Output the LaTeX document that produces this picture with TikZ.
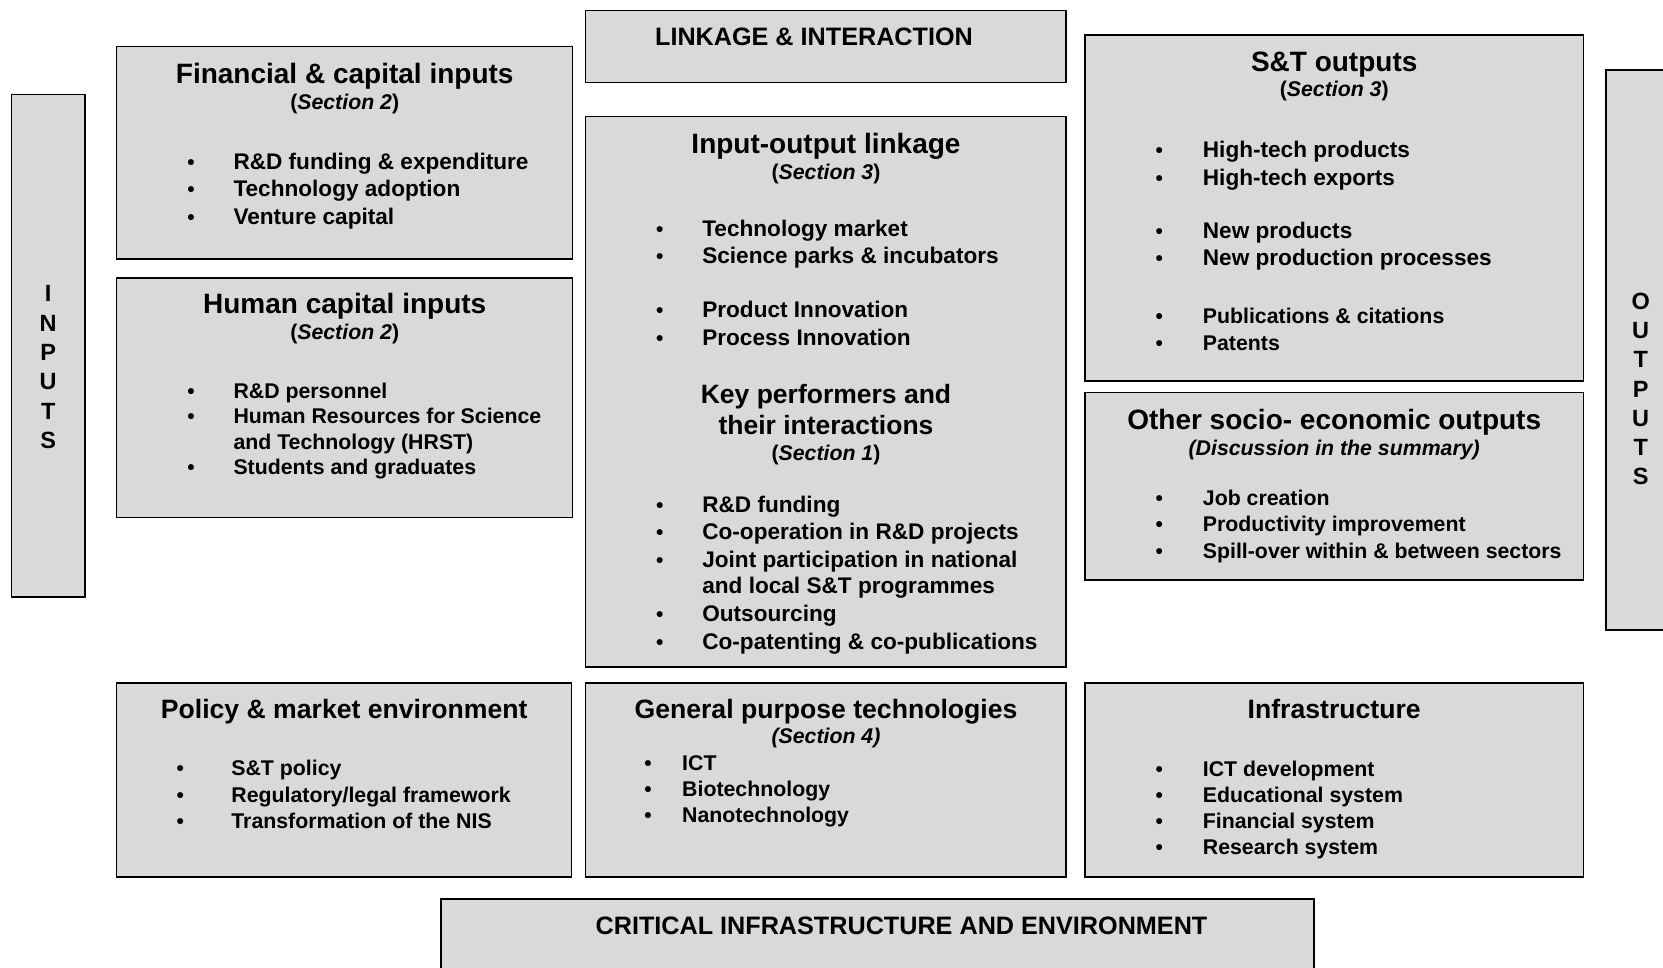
\documentclass[tikz,border=0pt]{standalone}
\usepackage{fontspec}
\setmainfont{Liberation Sans}
\definecolor{boxgray}{RGB}{217,217,217}
\tikzset{
  box/.style={draw=black, line width=1.5pt, fill=boxgray, inner sep=0pt, outer sep=0pt, anchor=north west},
  ttl/.style={font=\fontsize{28}{30}\selectfont\bfseries, anchor=base, inner sep=0pt},
  ttlk/.style={font=\fontsize{26.5}{28}\selectfont\bfseries, anchor=base, inner sep=0pt},
  ttlb/.style={font=\fontsize{26.6}{28}\selectfont\bfseries, anchor=base, inner sep=0pt},
  sec/.style={font=\fontsize{21.3}{23}\selectfont\bfseries, anchor=base, inner sep=0pt},
  big/.style={font=\fontsize{25.2}{27}\selectfont\bfseries, anchor=base, inner sep=0pt},
  itemA/.style={font=\fontsize{22.6}{24}\selectfont\bfseries, anchor=base west, inner sep=0pt},
  itemB/.style={font=\fontsize{21.3}{23}\selectfont\bfseries, anchor=base west, inner sep=0pt},
  bul/.style={font=\fontsize{21}{23}\selectfont\bfseries, anchor=base, inner sep=0pt},
  vert/.style={font=\fontsize{23.5}{29.3}\selectfont\bfseries, anchor=north, inner sep=0pt, align=center},
}
% name, bullet x, text x, baseline y, style, text
\newcommand{\bitem}[6]{%
  \node[bul] (#1b) at (#2,#4) {\textbullet};
  \node[#5] (#1) at (#3,#4) {#6};}
\begin{document}
\begin{tikzpicture}[x=1pt,y=-1pt]
\useasboundingbox (0,0) rectangle (1663,967);
\clip (0,0) rectangle (1663,967);
\fill[white] (0,0) rectangle (1663,967);

% boxes
\node[box, minimum width=73.1pt, minimum height=502.6pt] (inputs) at (11.7,94.4) {};
\node[box, minimum width=456pt, minimum height=212.1pt] (fin) at (116.7,46.7) {};
\node[box, minimum width=456pt, minimum height=239.7pt] (hum) at (116.7,277.9) {};
\node[box, minimum width=480.5pt, minimum height=72.1pt] (link) at (585.5,10.6) {};
\node[box, minimum width=480.5pt, minimum height=550.3pt] (io) at (585.5,116.7) {};
\node[box, minimum width=498.5pt, minimum height=345.8pt] (st) at (1085,35) {};
\node[box, minimum width=498.5pt, minimum height=187.6pt] (oth) at (1085,392.4) {};
\node[box, minimum width=90pt, minimum height=560pt] (outs) at (1605.8,70) {};
\node[box, minimum width=455pt, minimum height=194pt] (pol) at (116.7,683) {};
\node[box, minimum width=480.5pt, minimum height=194pt] (gen) at (585.5,683) {};
\node[box, minimum width=498.5pt, minimum height=194pt] (inf) at (1085,683) {};
\node[box, minimum width=873pt, minimum height=100pt] (crit) at (441,899) {};

% INPUTS / OUTPUTS
\node[vert] (inputsT) at (48.2,285.5) {I\\N\\P\\U\\T\\S};
\node[vert] (outputsT) at (1640.7,292.5) {O\\U\\T\\P\\U\\T\\S};

% LINKAGE / CRITICAL
\node[big] (linkT) at (814,45) {LINKAGE \& INTERACTION};
\node[big] (critT) at (901.5,934) {CRITICAL INFRASTRUCTURE AND ENVIRONMENT};

% Financial
\node[ttl] (finT) at (344.7,83) {Financial \& capital inputs};
\node[sec] (finS) at (344.7,109.5) {(\textit{Section 2})};
\bitem{f1}{191}{233.3}{169.3}{itemA}{R\&D funding \& expenditure}
\bitem{f2}{191}{233.3}{196.9}{itemA}{Technology adoption}
\bitem{f3}{191}{233.3}{224.5}{itemA}{Venture capital}

% Human
\node[ttl] (humT) at (344.7,313) {Human capital inputs};
\node[sec] (humS) at (344.7,339.6) {(\textit{Section 2})};
\bitem{h1}{191}{233.3}{398.4}{itemB}{R\&D personnel}
\bitem{h2}{191}{233.3}{423.9}{itemB}{Human Resources for Science}
\node[itemB] (h2b2) at (233.3,449.3) {and Technology (HRST)};
\bitem{h3}{191}{233.3}{474.8}{itemB}{Students and graduates}

% Input-output
\node[ttl] (ioT) at (826,153) {Input-output linkage};
\node[sec] (ioS) at (826,179.4) {(\textit{Section 3})};
\bitem{i1}{659.7}{702.1}{236.1}{itemA}{Technology market}
\bitem{i2}{659.7}{702.1}{263.7}{itemA}{Science parks \& incubators}
\bitem{i3}{659.7}{702.1}{317.8}{itemA}{Product Innovation}
\bitem{i4}{659.7}{702.1}{345.4}{itemA}{Process Innovation}
\node[ttlk] (keyT1) at (826,403) {Key performers and};
\node[ttlk] (keyT2) at (826,434) {their interactions};
\node[sec] (keyS) at (826,460.5) {(\textit{Section 1})};
\bitem{k1}{659.7}{702.1}{512.9}{itemA}{R\&D funding}
\bitem{k2}{659.7}{702.1}{539.5}{itemA}{Co-operation in R\&D projects}
\bitem{k3}{659.7}{702.1}{567}{itemA}{Joint participation in national}
\node[itemA] (k3b2) at (702.1,593.6) {and local S\&T programmes};
\bitem{k4}{659.7}{702.1}{621.1}{itemA}{Outsourcing}
\bitem{k5}{659.7}{702.1}{649.8}{itemA}{Co-patenting \& co-publications}

% S&T outputs
\node[ttl] (stT) at (1334.2,71.5) {S\&T outputs};
\node[sec] (stS) at (1334.2,96.7) {(\textit{Section 3})};
\bitem{s1}{1159.2}{1202.7}{157.6}{itemA}{High-tech products}
\bitem{s2}{1159.2}{1202.7}{185.2}{itemA}{High-tech exports}
\bitem{s3}{1159.2}{1202.7}{238.3}{itemA}{New products}
\bitem{s4}{1159.2}{1202.7}{265.8}{itemA}{New production processes}
\bitem{s5}{1159.2}{1202.7}{323.7}{itemB}{Publications \& citations}
\bitem{s6}{1159.2}{1202.7}{350.2}{itemB}{Patents}

% Other socio-economic
\node[ttl] (othT) at (1334.2,429) {Other socio- economic outputs};
\node[sec] (othS) at (1334.2,455.2) {\textit{(Discussion in the summary)}};
\bitem{o1}{1159.2}{1202.7}{505}{itemB}{Job creation}
\bitem{o2}{1159.2}{1202.7}{531.5}{itemB}{Productivity improvement}
\bitem{o3}{1159.2}{1202.7}{558.1}{itemB}{Spill-over within \& between sectors}

% Policy
\node[ttlb] (polT) at (344.2,718.5) {Policy \& market environment};
\bitem{p1}{180.3}{231.2}{775.5}{itemB}{S\&T policy}
\bitem{p2}{180.3}{231.2}{802}{itemB}{Regulatory/legal framework}
\bitem{p3}{180.3}{231.2}{828.5}{itemB}{Transformation of the NIS}

% General purpose
\node[ttlb] (genT) at (826,718.5) {General purpose technologies};
\node[sec] (genS) at (826,743.6) {\textit{(Section 4)}};
\bitem{g1}{648}{682}{770.2}{itemB}{ICT}
\bitem{g2}{648}{682}{796.7}{itemB}{Biotechnology}
\bitem{g3}{648}{682}{822.1}{itemB}{Nanotechnology}

% Infrastructure
\node[ttlb] (infT) at (1334.2,718.5) {Infrastructure};
\bitem{n1}{1159.2}{1202.7}{776.5}{itemB}{ICT development}
\bitem{n2}{1159.2}{1202.7}{802}{itemB}{Educational system}
\bitem{n3}{1159.2}{1202.7}{828.5}{itemB}{Financial system}
\bitem{n4}{1159.2}{1202.7}{854}{itemB}{Research system}
\end{tikzpicture}
\end{document}
